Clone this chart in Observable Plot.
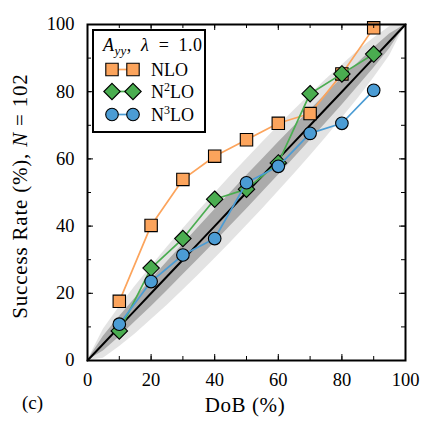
<!DOCTYPE html>
<html>
<head>
<meta charset="utf-8">
<script src="https://cdn.jsdelivr.net/npm/d3@7"></script>
<script src="https://cdn.jsdelivr.net/npm/@observablehq/plot@0.6"></script>
<style>
  html, body { margin: 0; padding: 0; background: #fff; }
  #chart { width: 436px; height: 436px; }
  #chart svg, #chart svg text { font-family: "Liberation Serif", "Times New Roman", serif !important; }
</style>
</head>
<body>
<div id="chart"></div>
<script>
// Degree of belief (%) of each credible interval
const dob = [10, 20, 30, 40, 50, 60, 70, 80, 90];

// Empirical success rates (%) for A_yy, lambda = 1.0, N = 102
const nlo  = [17.6, 40.2, 53.9, 60.8, 65.7, 70.6, 73.5, 85.3, 99.0];
const n2lo = [8.8, 27.5, 36.3, 48.0, 51.0, 58.8, 79.4, 85.3, 91.2];
const n3lo = [10.8, 23.5, 31.4, 36.3, 52.9, 57.8, 67.6, 70.6, 80.4];

// Expected spread of the success rate around the diagonal (half-widths, %)
const bandDob = [0, 5, 10, 15, 20, 25, 30, 35, 40, 45, 50, 55, 60, 65, 70, 75, 80, 85, 90, 95, 100];
const band68  = [0, 2.2, 3.0, 3.5, 4.0, 4.3, 4.5, 4.7, 4.9, 4.9, 5.0, 4.9, 4.9, 4.7, 4.5, 4.3, 4.0, 3.5, 3.0, 2.2, 0];
const band95  = [0, 4.3, 5.9, 7.1, 7.9, 8.6, 9.1, 9.5, 9.7, 9.9, 9.9, 9.9, 9.7, 9.5, 9.1, 8.6, 7.9, 7.1, 5.9, 4.3, 0];

const tickLabels = [0, 20, 40, 60, 80, 100];
const minorTicks = [0, 10, 20, 30, 40, 50, 60, 70, 80, 90, 100];

const series = [
  {name: "NLO",  sup: null, values: nlo,  color: "#fca45c", symbol: "square",   r: 7.0},
  {name: "N2LO", sup: "2",  values: n2lo, color: "#4aad50", symbol: "diamond2", r: 7.4},
  {name: "N3LO", sup: "3",  values: n3lo, color: "#4b9cd4", symbol: "circle",   r: 6.3}
];

const W = 436, H = 436;
const mL = 87, mR = 31, mT = 24, mB = 76;
const innerW = W - mL - mR, innerH = H - mT - mB;
const majorLen = 6, minorLen = 4;
const serif = "Liberation Serif, Times New Roman, serif";

const bandRows = bandDob.map((d, i) => ({
  dob: d,
  lo68: d - band68[i], hi68: d + band68[i],
  lo95: d - band95[i], hi95: d + band95[i]
}));

const seriesMarks = series.flatMap(s => {
  const rows = dob.map((d, i) => ({dob: d, rate: s.values[i]}));
  return [
    Plot.line(rows, {x: "dob", y: "rate", stroke: s.color, strokeWidth: 1.7}),
    Plot.dot(rows, {x: "dob", y: "rate", symbol: s.symbol, r: s.r, fill: s.color, stroke: "#000", strokeWidth: 1.1})
  ];
});

const chart = Plot.plot({
  width: W, height: H,
  marginLeft: mL, marginRight: mR, marginTop: mT, marginBottom: mB,
  x: {domain: [0, 100]},
  y: {domain: [0, 100]},
  style: {fontFamily: serif, fontSize: "18px", color: "#000", background: "#fff"},
  marks: [
    Plot.areaY(bandRows, {x: "dob", y1: "lo95", y2: "hi95", fill: "#e3e3e3"}),
    Plot.areaY(bandRows, {x: "dob", y1: "lo68", y2: "hi68", fill: "#ababab"}),
    Plot.line(bandDob, {x: d => d, y: d => d, stroke: "#000", strokeWidth: 2}),
    ...seriesMarks,
    // inward ticks on all four sides
    Plot.tickX(minorTicks, {x: d => d, stroke: "#000", strokeWidth: 1, insetTop: innerH - minorLen}),
    Plot.tickX(tickLabels, {x: d => d, stroke: "#000", strokeWidth: 1, insetTop: innerH - majorLen}),
    Plot.tickX(minorTicks, {x: d => d, stroke: "#000", strokeWidth: 1, insetBottom: innerH - minorLen}),
    Plot.tickX(tickLabels, {x: d => d, stroke: "#000", strokeWidth: 1, insetBottom: innerH - majorLen}),
    Plot.tickY(minorTicks, {y: d => d, stroke: "#000", strokeWidth: 1, insetRight: innerW - minorLen}),
    Plot.tickY(tickLabels, {y: d => d, stroke: "#000", strokeWidth: 1, insetRight: innerW - majorLen}),
    Plot.tickY(minorTicks, {y: d => d, stroke: "#000", strokeWidth: 1, insetLeft: innerW - minorLen}),
    Plot.tickY(tickLabels, {y: d => d, stroke: "#000", strokeWidth: 1, insetLeft: innerW - majorLen}),
    Plot.axisX(tickLabels, {tickSize: 0, tickPadding: 12, label: null, fontSize: 18.5}),
    Plot.axisY(tickLabels, {tickSize: 0, tickPadding: 13, label: null, fontSize: 18.5}),
    Plot.frame({stroke: "#000", strokeWidth: 2})
  ]
});

document.getElementById("chart").appendChild(chart);

const svg = d3.select(chart);

// Axis titles and panel tag
svg.append("text")
  .attr("x", 245).attr("y", 412)
  .attr("text-anchor", "middle")
  .style("font-size", "21px").style("letter-spacing", "0.6px")
  .text("DoB (%)");

const yTitle = svg.append("text")
  .attr("transform", "translate(27,196) rotate(-90)")
  .attr("text-anchor", "middle")
  .style("font-size", "21px").style("letter-spacing", "0.8px");
yTitle.append("tspan").text("Success Rate (%), ");
yTitle.append("tspan").style("font-style", "italic").text("N");
yTitle.append("tspan").text(" = 102");

svg.append("text")
  .attr("x", 22).attr("y", 409)
  .attr("text-anchor", "start")
  .style("font-size", "19px")
  .text("(c)");

// Legend
const lg = svg.append("g").attr("text-anchor", "start");
lg.append("rect")
  .attr("x", 93).attr("y", 30).attr("width", 112).attr("height", 102)
  .attr("fill", "#fff").attr("stroke", "#000").attr("stroke-width", 2);

const title = lg.append("text")
  .attr("x", 103).attr("y", 51)
  .attr("text-anchor", "start")
  .style("font-size", "18px").style("letter-spacing", "0.4px");
title.append("tspan").style("font-style", "italic").text("A");
title.append("tspan").style("font-style", "italic").style("font-size", "13px").attr("dy", 4).text("yy");
title.append("tspan").attr("dy", -4).text(",\u2002");
title.append("tspan").style("font-style", "italic").text("λ");
title.append("tspan").text("\u2002=\u20021.0");

const symbolTypes = {square: d3.symbolSquare, diamond2: d3.symbolDiamond2, circle: d3.symbolCircle};
const rowY = [69.5, 91.5, 114.5];
series.forEach((s, i) => {
  const y = rowY[i];
  lg.append("line")
    .attr("x1", 112).attr("x2", 133).attr("y1", y).attr("y2", y)
    .attr("stroke", s.color).attr("stroke-width", 1.7);
  [112, 133].forEach(x => {
    lg.append("path")
      .attr("transform", `translate(${x},${y})`)
      .attr("d", d3.symbol(symbolTypes[s.symbol], s.r * s.r * Math.PI)())
      .attr("fill", s.color).attr("stroke", "#000").attr("stroke-width", 1.1);
  });
  const t = lg.append("text")
    .attr("x", 151).attr("y", y + 6)
    .attr("text-anchor", "start")
    .style("font-size", "18px");
  t.append("tspan").text("N");
  if (s.sup) {
    t.append("tspan").style("font-size", "12px").attr("dy", -7).text(s.sup);
    t.append("tspan").attr("dy", 7).text("LO");
  } else {
    t.text("NLO");
  }
});
</script>
</body>
</html>
